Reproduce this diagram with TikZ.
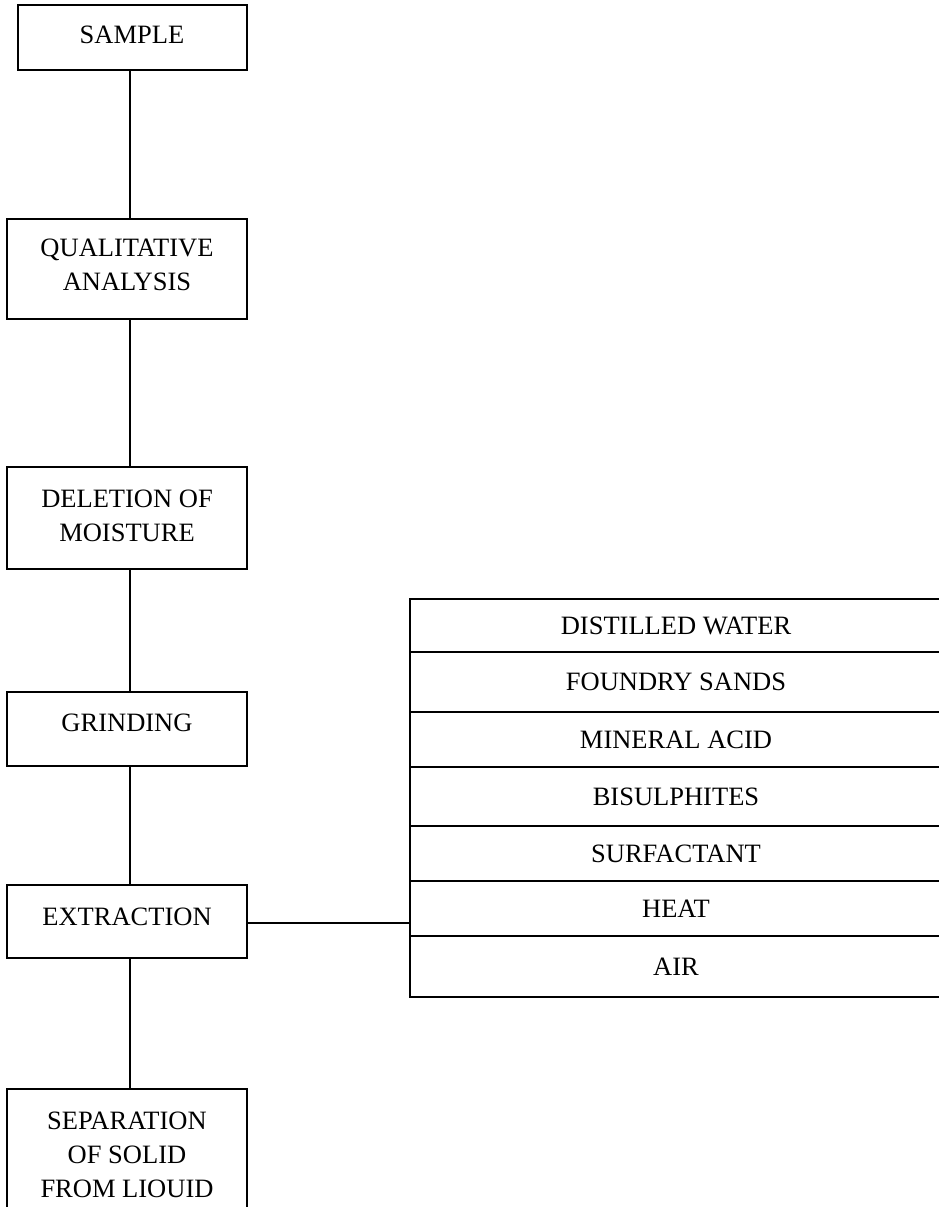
\documentclass[tikz,border=0pt]{standalone}
\usepackage{fontspec}
\setmainfont{Liberation Serif}
\tikzset{
  box/.style={draw, line width=1.6pt, inner sep=0pt, minimum width=240pt},
  row/.style={draw, line width=1.6pt, inner sep=0pt, minimum width=532pt,
    font=\fontsize{26.5}{34}\selectfont},
  lbl/.style={anchor=base, inner sep=0pt, font=\fontsize{26.5}{34}\selectfont},
  conn/.style={line width=1.6pt}
}
\newcommand{\stack}[1]{\begin{tabular}[t]{@{}c@{}}#1\end{tabular}}
\begin{document}
\begin{tikzpicture}[x=1pt,y=-1pt]
\useasboundingbox (0,0) rectangle (939,1207);
% left column boxes
\node[box, minimum width=229pt, minimum height=65pt] (sample) at (132.5,37.5) {};
\node[box, minimum height=100pt] (qual) at (127,269) {};
\node[box, minimum height=102pt] (del) at (127,518) {};
\node[box, minimum height=74pt] (grind) at (127,729) {};
\node[box, minimum height=73pt] (extr) at (127,921.5) {};
\node[box, minimum height=131pt] (sep) at (127,1154.5) {};
\coordinate (spine) at (130,0);
% texts
\node[lbl] (tsample) at (132,44) {SAMPLE};
\node[lbl] (tqual) at (127,256.5) {\stack{QUALITATIVE\\ANALYSIS}};
\node[lbl] (tdel) at (127,507) {\stack{DELETION OF\\MOISTURE}};
\node[lbl] (tgrind) at (127,731) {GRINDING};
\node[lbl] (textr) at (127,925) {EXTRACTION};
\node[lbl] (tsep) at (127,1129) {\stack{SEPARATION\\OF SOLID\\FROM LIOUID}};
% table
\node[row, minimum height=53pt] (r1) at (676,625.5) {DISTILLED WATER};
\node[row, minimum height=60pt] (r2) at (676,682) {FOUNDRY SANDS};
\node[row, minimum height=55pt] (r3) at (676,739.5) {MINERAL ACID};
\node[row, minimum height=59pt] (r4) at (676,796.5) {BISULPHITES};
\node[row, minimum height=55pt] (r5) at (676,853.5) {SURFACTANT};
\node[row, minimum height=55pt] (r6) at (676,908.5) {HEAT};
\node[row, minimum height=61pt] (r7) at (676,966.5) {AIR};
% connectors
\draw[conn] (sample.south -| spine) -- (qual.north -| spine);
\draw[conn] (qual.south -| spine) -- (del.north -| spine);
\draw[conn] (del.south -| spine) -- (grind.north -| spine);
\draw[conn] (grind.south -| spine) -- (extr.north -| spine);
\draw[conn] (extr.south -| spine) -- (sep.north -| spine);
\coordinate (tap) at (247,923);
\draw[conn] (tap) -- (tap -| r6.west);
\end{tikzpicture}
\end{document}
